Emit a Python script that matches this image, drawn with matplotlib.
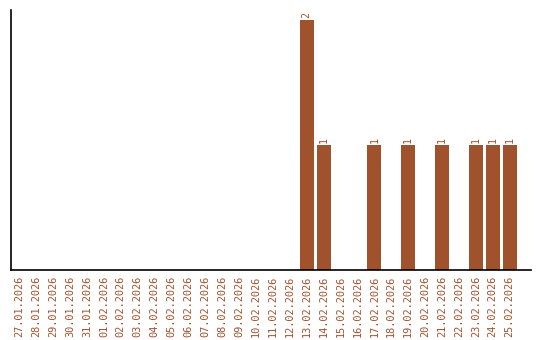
import matplotlib
matplotlib.use("Agg")
import matplotlib.pyplot as plt
import numpy as np

dates = ['27.01.2026', '28.01.2026', '29.01.2026', '30.01.2026', '31.01.2026',
         '01.02.2026', '02.02.2026', '03.02.2026', '04.02.2026', '05.02.2026',
         '06.02.2026', '07.02.2026', '08.02.2026', '09.02.2026', '10.02.2026',
         '11.02.2026', '12.02.2026', '13.02.2026', '14.02.2026', '15.02.2026',
         '16.02.2026', '17.02.2026', '18.02.2026', '19.02.2026', '20.02.2026',
         '21.02.2026', '22.02.2026', '23.02.2026', '24.02.2026', '25.02.2026']
counts = [0, 0, 0, 0, 0,
          0, 0, 0, 0, 0,
          0, 0, 0, 0, 0,
          0, 0, 2, 1, 0,
          0, 1, 0, 1, 0,
          1, 0, 1, 1, 1]

col = '#A0522D'

fig = plt.figure(figsize=(5.4, 3.4), dpi=100)
ax = fig.add_axes([11/540, 70/340, 520/540, 260/340])

x = np.arange(len(dates))
ax.bar(x, counts, width=0.83, color=col)
for xi, c in zip(x, counts):
    if c > 0:
        ax.text(xi, c + 0.02, str(c), rotation=90, ha='center', va='bottom',
                color=col, family='DejaVu Sans Mono', fontsize=7.2)

ax.set_xlim(-0.5, 30.27)
ax.set_ylim(0, 2.08)
ax.set_xticks(x)
ax.set_xticklabels(dates, rotation=90, family='DejaVu Sans Mono', fontsize=7.4, color=col)
ax.tick_params(axis='x', length=0, pad=4)
ax.set_yticks([])
ax.spines['top'].set_visible(False)
ax.spines['right'].set_visible(False)
ax.spines['left'].set_linewidth(1.2)
ax.spines['bottom'].set_linewidth(1.2)

fig.savefig('out.png', dpi=100)
